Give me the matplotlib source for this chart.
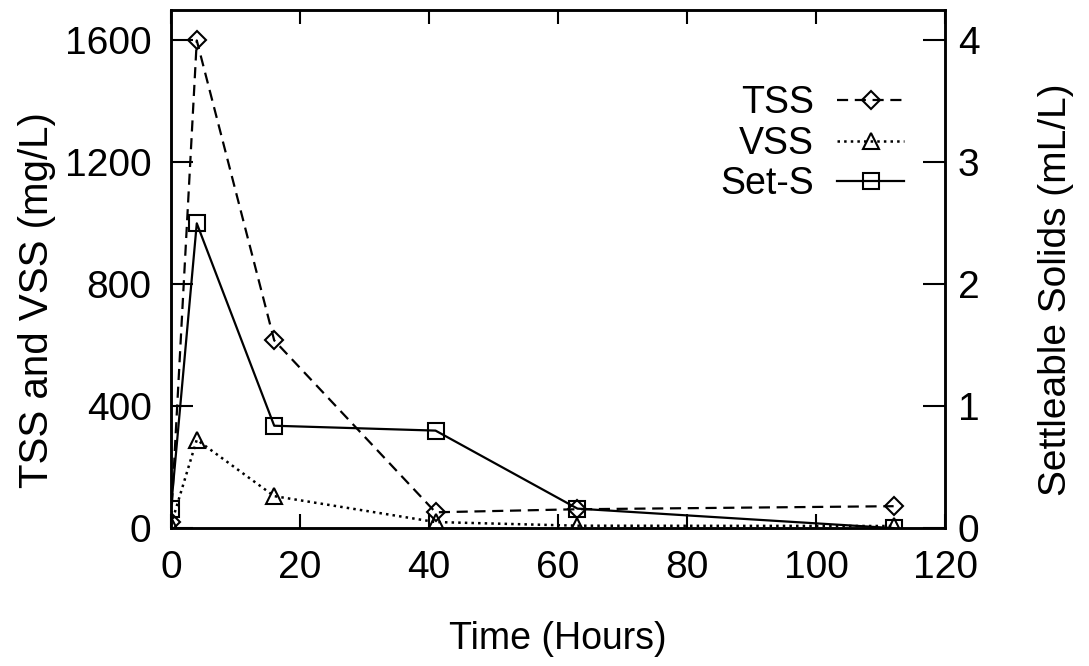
import matplotlib.pyplot as plt
from matplotlib.ticker import MultipleLocator

plt.rcParams.update({'font.size': 27, 'font.family': 'Liberation Sans'})

# data
hours = [0, 4, 16, 41, 63, 112]
tss = [20, 1600, 616, 52, 62, 72]
vss = [10, 290, 105, 20, 8, 7]
sets = [0.16, 2.50, 0.84, 0.80, 0.16, 0.0]

fig, ax = plt.subplots(figsize=(10.89, 6.66), dpi=100)
fig.subplots_adjust(left=0.157, right=0.868, bottom=0.207, top=0.985)
ax2 = ax.twinx()

l1, = ax.plot(hours, tss, '--', color='black', lw=1.6, dashes=(5, 3),
              marker='D', ms=9, mfc='none', mec='black', mew=1.5, label='TSS')
l2, = ax.plot(hours, vss, ':', color='black', lw=1.8,
              marker='^', ms=11, mfc='none', mec='black', mew=1.5, label='VSS')
l3, = ax2.plot(hours, sets, '-', color='black', lw=1.6,
               marker='s', ms=12, mfc='none', mec='black', mew=1.5, label='Set-S')

ax.set_xlim(0, 120)
ax.set_ylim(0, 1700)
ax2.set_ylim(0, 4.25)
ax.xaxis.set_major_locator(MultipleLocator(20))
ax.yaxis.set_major_locator(MultipleLocator(400))
ax2.yaxis.set_major_locator(MultipleLocator(1))

ax.tick_params(axis='x', direction='in', length=10, width=1.5, top=True, pad=16, labelsize=28)
ax.tick_params(axis='y', direction='in', length=16, width=1.5, pad=14, labelsize=28)
ax2.tick_params(axis='y', direction='in', length=16, width=1.5, pad=9, labelsize=28)
for a in (ax, ax2):
    for s in a.spines.values():
        s.set_linewidth(1.8)

ax.set_xlabel('Time (Hours)', labelpad=25)
ax.set_ylabel('TSS and VSS (mg/L)', fontsize=29)
ax2.set_ylabel('Settleable Solids (mL/L)', fontsize=28)
ax.yaxis.set_label_coords(-0.148, 0.44)
ax2.yaxis.set_label_coords(1.12, 0.46)

ax2.legend(handles=[l1, l2, l3], loc='upper right', bbox_to_anchor=(0.981, 0.905),
           frameon=False, markerfirst=False, handlelength=1.8, handletextpad=0.6,
           labelspacing=0.12, borderpad=0.2)

fig.savefig('out.png', dpi=100)
